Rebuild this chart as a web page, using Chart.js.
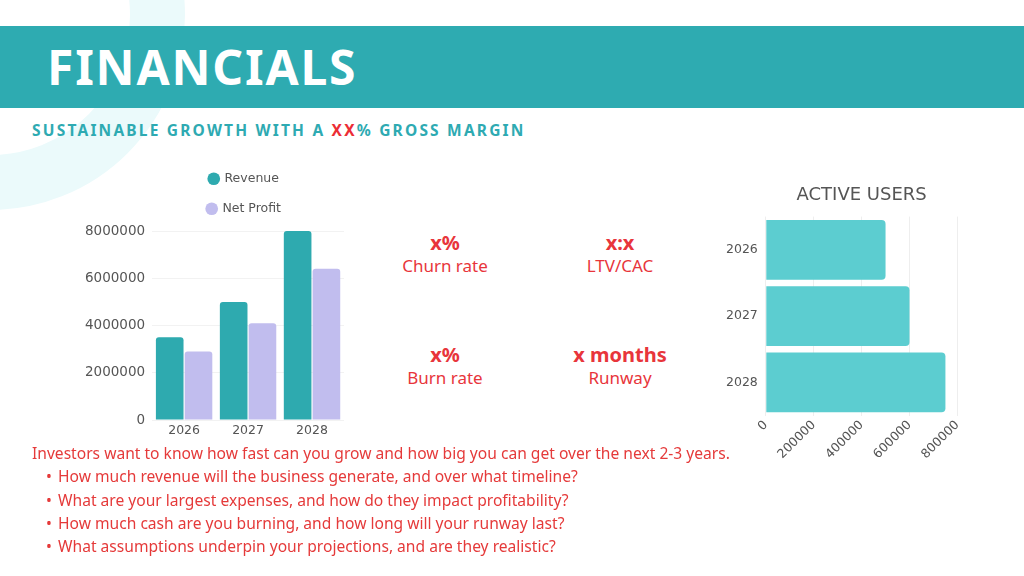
<!DOCTYPE html>
<html>
<head>
<meta charset="utf-8">
<script src="https://cdn.jsdelivr.net/npm/chart.js@4"></script>
<style>
  html, body { margin: 0; padding: 0; }
  body { width: 1024px; height: 576px; position: relative; overflow: hidden; background: #fff; font-family: "Noto Sans", sans-serif; }
  .ring { position: absolute; left: -205px; top: -180px; width: 280px; height: 280px; border: 55px solid #ebfafb; border-radius: 50%; }
  .band { position: absolute; left: 0; top: 26px; width: 1024px; height: 82px; background: #2eabb1; }
  .band h1 { margin: 0; position: absolute; left: 47px; top: 8px; font-size: 48px; font-weight: 700; color: #fff; letter-spacing: 1.8px; }
  .sub { position: absolute; left: 32px; top: 119px; font-size: 15.5px; font-weight: 700; color: #2eaab2; letter-spacing: 2.2px; white-space: nowrap; }
  .sub span { color: #ec2d35; }
  .kpi { position: absolute; width: 160px; text-align: center; color: #e8353b; }
  .kpi b { display: block; font-size: 20px; line-height: 24px; }
  .kpi div { font-size: 17px; line-height: 22px; }
  .note { position: absolute; left: 32px; top: 442px; color: #e53a3a; font-size: 15.6px; line-height: 23.3px; white-space: nowrap; }
  .note ul { margin: 0; padding: 0 0 0 14px; list-style: none; }
  .note li::before { content: "\2022"; display: inline-block; width: 12px; }
  #box1 { position: absolute; left: 78px; top: 155px; width: 266px; height: 286px; }
  #box2 { position: absolute; left: 718px; top: 175px; width: 252px; height: 289px; }
</style>
</head>
<body>
<div class="ring"></div>
<div class="band"><h1>FINANCIALS</h1></div>
<div class="sub">SUSTAINABLE GROWTH WITH A <span>XX</span>% GROSS MARGIN</div>

<div id="box1"><canvas id="finChart"></canvas></div>
<div id="box2"><canvas id="usersChart"></canvas></div>

<div class="kpi" style="left:365px; top:231px;"><b>x%</b><div>Churn rate</div></div>
<div class="kpi" style="left:540px; top:231px;"><b>x:x</b><div>LTV/CAC</div></div>
<div class="kpi" style="left:365px; top:343px;"><b>x%</b><div>Burn rate</div></div>
<div class="kpi" style="left:540px; top:343px;"><b>x months</b><div>Runway</div></div>

<div class="note">
  Investors want to know how fast can you grow and how big you can get over the next 2-3 years.
  <ul>
    <li>How much revenue will the business generate, and over what timeline?</li>
    <li>What are your largest expenses, and how do they impact profitability?</li>
    <li>How much cash are you burning, and how long will your runway last?</li>
    <li>What assumptions underpin your projections, and are they realistic?</li>
  </ul>
</div>

<script>
// Financials data
var years = ["2026", "2027", "2028"];
var revenue = [3500000, 5000000, 8000000];
var netProfit = [2900000, 4100000, 6400000];

// Active users data
var userYears = ["2026", "2027", "2028"];
var activeUsers = [500000, 600000, 750000];

var grey = "#555";
var plainNumber = function (value) { return String(value); };

// Revenue / Net Profit chart
var ctx = document.getElementById("finChart").getContext("2d");
var finChart = new Chart(ctx, {
  type: "bar",
  data: {
    labels: years,
    datasets: [{
      label: "Revenue",
      data: revenue,
      backgroundColor: "#2eaaaf",
      borderRadius: 3,
      categoryPercentage: 0.9,
      barPercentage: 0.96,
    }, {
      label: "Net Profit",
      data: netProfit,
      backgroundColor: "#c1bdee",
      borderRadius: 3,
      categoryPercentage: 0.9,
      barPercentage: 0.96,
    }],
  },
  options: {
    responsive: true,
    maintainAspectRatio: false,
    animation: false,
    plugins: {
      legend: {
        fullSize: false,
        labels: {
          usePointStyle: true,
          pointStyle: "circle",
          boxWidth: 9,
          boxHeight: 9,
          padding: 17.5,
          color: grey,
          font: { family: "DejaVu Sans", size: 12.5 },
          // trailing spaces push the legend a bit left, like the original
          generateLabels: function (chart) {
            var items = Chart.defaults.plugins.legend.labels.generateLabels(chart);
            items.forEach(function (it) { it.text = it.text + "  "; });
            return items;
          },
        },
      },
      // empty subtitle used as a small gap under the legend
      subtitle: {
        display: true,
        text: "",
        weight: 500,
        fullSize: false,
        font: { size: 5 },
        padding: 0,
      },
      tooltip: { enabled: false },
    },
    scales: {
      x: {
        grid: { display: false, drawTicks: false },
        border: { display: false },
        ticks: { color: grey, font: { family: "DejaVu Sans", size: 12.5 }, padding: 3 },
      },
      y: {
        min: 0,
        max: 8000000,
        ticks: { stepSize: 2000000, color: grey, font: { family: "DejaVu Sans", size: 13.5 }, padding: 7, callback: plainNumber },
        grid: { color: "#f2f2f2", drawTicks: false },
        border: { display: false },
      },
    },
  },
});

// Active users chart
var ctx2 = document.getElementById("usersChart").getContext("2d");
var usersChart = new Chart(ctx2, {
  type: "bar",
  data: {
    labels: userYears,
    datasets: [{
      label: "Active Users",
      data: activeUsers,
      backgroundColor: "#5ccdd0",
      borderRadius: 4,
      categoryPercentage: 0.9,
      barPercentage: 1,
    }],
  },
  options: {
    indexAxis: "y",
    responsive: true,
    maintainAspectRatio: false,
    animation: false,
    plugins: {
      legend: { display: false },
      title: {
        display: true,
        text: "ACTIVE USERS",
        fullSize: false,
        color: grey,
        font: { family: "DejaVu Sans", size: 18, weight: "normal" },
        padding: { top: 10, bottom: 10 },
      },
      tooltip: { enabled: false },
    },
    scales: {
      x: {
        min: 0,
        max: 800000,
        ticks: { stepSize: 200000, color: grey, font: { family: "DejaVu Sans", size: 12.5 }, minRotation: 45, maxRotation: 45, padding: 2, callback: plainNumber },
        grid: { color: "#eeeeee", drawTicks: false },
        border: { display: false },
      },
      y: {
        grid: { display: false, drawTicks: false },
        border: { display: false },
        ticks: { color: grey, font: { family: "DejaVu Sans", size: 12.5 }, padding: 8 },
      },
    },
  },
});
</script>
</body>
</html>
